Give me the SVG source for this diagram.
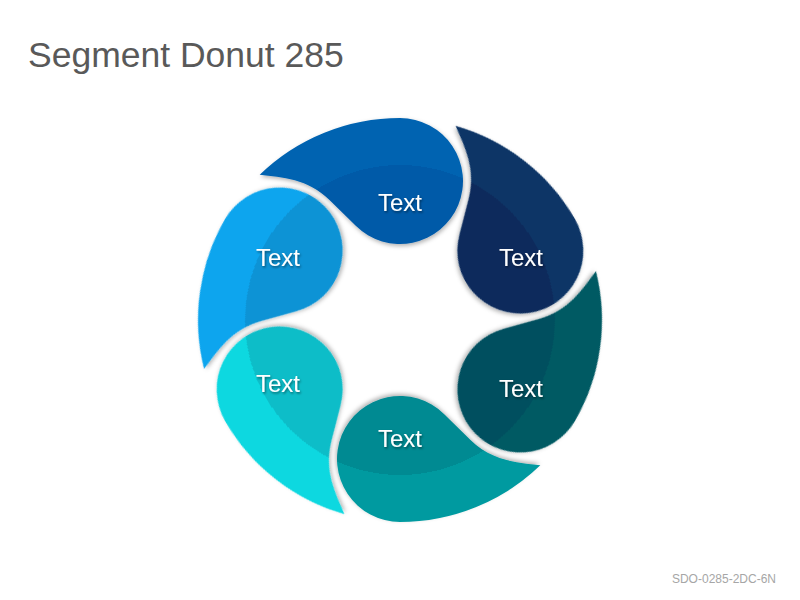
<svg xmlns="http://www.w3.org/2000/svg" xmlns:xlink="http://www.w3.org/1999/xlink" width="800" height="600" viewBox="0 0 800 600">
  <style>
    .title { font-family: "Liberation Sans", Arial, sans-serif; font-size: 35.5px; fill: #595959; }
    .footer { font-family: "Liberation Sans", Arial, sans-serif; font-size: 12px; fill: #a6a6a6; }
    .lbl { font-family: "Liberation Sans", Arial, sans-serif; font-size: 24px; fill: #ffffff; text-anchor: middle; filter: url(#tshadow); }
    .seg { filter: url(#shadow); }
  </style>
  <defs>
    <path id="drop" d="M -140.3 -145.3 A 202 202 0 0 1 0 -202 A 63 63 0 1 1 -44.24 -94.14 L -70.52 -120.05 C -91.9 -141.1 -118 -143 -140.3 -145.3 Z"/>
    <filter id="shadow" x="-20%" y="-20%" width="140%" height="140%">
      <feDropShadow dx="1" dy="2" stdDeviation="2" flood-color="#000000" flood-opacity="0.3"/>
    </filter>
    <filter id="tshadow" x="-20%" y="-30%" width="140%" height="160%">
      <feDropShadow dx="1" dy="1.5" stdDeviation="1" flood-color="#000000" flood-opacity="0.45"/>
    </filter>
    <radialGradient id="g1" gradientUnits="userSpaceOnUse" cx="0" cy="0" r="202">
      <stop offset="0" stop-color="#055aa8"/><stop offset="0.767" stop-color="#055aa8"/>
      <stop offset="0.767" stop-color="#0563b1"/><stop offset="1" stop-color="#0563b1"/>
    </radialGradient>
    <radialGradient id="g2" gradientUnits="userSpaceOnUse" cx="0" cy="0" r="202">
      <stop offset="0" stop-color="#0a2b5b"/><stop offset="0.767" stop-color="#0a2b5b"/>
      <stop offset="0.767" stop-color="#0b3566"/><stop offset="1" stop-color="#0b3566"/>
    </radialGradient>
    <radialGradient id="g3" gradientUnits="userSpaceOnUse" cx="0" cy="0" r="202">
      <stop offset="0" stop-color="#06505e"/><stop offset="0.767" stop-color="#06505e"/>
      <stop offset="0.767" stop-color="#055a63"/><stop offset="1" stop-color="#055a63"/>
    </radialGradient>
    <radialGradient id="g4" gradientUnits="userSpaceOnUse" cx="0" cy="0" r="202">
      <stop offset="0" stop-color="#068a92"/><stop offset="0.767" stop-color="#068a92"/>
      <stop offset="0.767" stop-color="#029aa0"/><stop offset="1" stop-color="#029aa0"/>
    </radialGradient>
    <radialGradient id="g5" gradientUnits="userSpaceOnUse" cx="0" cy="0" r="202">
      <stop offset="0" stop-color="#08bdc8"/><stop offset="0.767" stop-color="#08bdc8"/>
      <stop offset="0.767" stop-color="#0ad8e0"/><stop offset="1" stop-color="#0ad8e0"/>
    </radialGradient>
    <radialGradient id="g6" gradientUnits="userSpaceOnUse" cx="0" cy="0" r="202">
      <stop offset="0" stop-color="#0893d5"/><stop offset="0.767" stop-color="#0893d5"/>
      <stop offset="0.767" stop-color="#0ba5ee"/><stop offset="1" stop-color="#0ba5ee"/>
    </radialGradient>
  </defs>

  <text class="title" x="28" y="67">Segment Donut 285</text>

  <g id="connectors"></g>

  <g id="seg-top">
    <use class="seg" href="#drop" xlink:href="#drop" fill="url(#g1)" transform="translate(400 320) rotate(0)"/>
    <text class="lbl" x="400" y="211">Text</text>
  </g>
  <g id="seg-upper-right">
    <use class="seg" href="#drop" xlink:href="#drop" fill="url(#g2)" transform="translate(400 320) rotate(60)"/>
    <text class="lbl" x="521" y="266">Text</text>
  </g>
  <g id="seg-lower-right">
    <use class="seg" href="#drop" xlink:href="#drop" fill="url(#g3)" transform="translate(400 320) rotate(120)"/>
    <text class="lbl" x="521" y="397">Text</text>
  </g>
  <g id="seg-bottom">
    <use class="seg" href="#drop" xlink:href="#drop" fill="url(#g4)" transform="translate(400 320) rotate(180)"/>
    <text class="lbl" x="400" y="447">Text</text>
  </g>
  <g id="seg-lower-left">
    <use class="seg" href="#drop" xlink:href="#drop" fill="url(#g5)" transform="translate(400 320) rotate(240)"/>
    <text class="lbl" x="278" y="392">Text</text>
  </g>
  <g id="seg-upper-left">
    <use class="seg" href="#drop" xlink:href="#drop" fill="url(#g6)" transform="translate(400 320) rotate(300)"/>
    <text class="lbl" x="278" y="266">Text</text>
  </g>

  <text class="footer" x="776" y="583" text-anchor="end">SDO-0285-2DC-6N</text>
</svg>
